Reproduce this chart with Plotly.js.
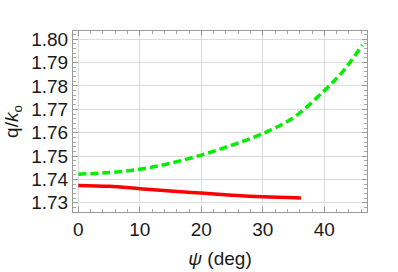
<!DOCTYPE html>
<html>
<head>
<meta charset="utf-8">
<script src="https://cdn.plot.ly/plotly-3.0.1.min.js"></script>
<style>html,body{margin:0;padding:0;background:#fff;}#chart{width:398px;height:272px;}</style>
</head>
<body>
<div id="chart"></div>
<script>
const greenPsi = [0, 5, 10, 15, 20, 25, 30, 35, 40, 43, 46.2];
const greenQ = [1.7422, 1.7429, 1.7443, 1.7469, 1.7504, 1.7547, 1.7596, 1.7665, 1.7780, 1.7862, 1.7976];
const redPsi = [0, 5, 10, 15, 20, 25, 30, 36.2];
const redQ = [1.7374, 1.7370, 1.7360, 1.7350, 1.7341, 1.7332, 1.7325, 1.7320];
const xTicks = [0, 10, 20, 30, 40];
const yTicks = [1.73, 1.74, 1.75, 1.76, 1.77, 1.78, 1.79, 1.80];

const font = {family: 'Liberation Sans, Arial, sans-serif', size: 19, color: '#1a1a1a'};
const titleFont = {family: 'Liberation Sans, Arial, sans-serif', size: 19, color: '#1a1a1a'};
const axisCommon = {
  showgrid: true, gridcolor: '#dcdcdc', gridwidth: 1,
  zeroline: false, showline: true, linecolor: '#9a9a9a', linewidth: 1,
  mirror: 'allticks', ticks: 'inside', ticklen: 5, tickcolor: '#9a9a9a',
  tickfont: font
};
Plotly.newPlot('chart', [
  {x: greenPsi, y: greenQ, mode: 'lines', line: {color: '#00ee00', width: 3.5, dash: '8px,4px', shape: 'spline'}, hoverinfo: 'skip'},
  {x: redPsi, y: redQ, mode: 'lines', line: {color: '#ff0000', width: 3.5, shape: 'spline'}, hoverinfo: 'skip'}
], {
  width: 398, height: 272,
  margin: {l: 73, r: 31, t: 31, b: 60},
  paper_bgcolor: '#fff', plot_bgcolor: '#fff',
  showlegend: false,
  xaxis: Object.assign({}, axisCommon, {
    range: [-0.86, 46.94], tickmode: 'array', tickvals: xTicks, ticktext: xTicks.map(String),
    minor: {dtick: 2, ticks: 'inside', ticklen: 3, tickcolor: '#aaa', showgrid: false},
    title: {text: '<i>ψ</i> (deg)', font: titleFont, standoff: 12}
  }),
  yaxis: Object.assign({}, axisCommon, {
    range: [1.72601, 1.80356], tickmode: 'array', tickvals: yTicks, ticktext: yTicks.map(v => v.toFixed(2)),
    minor: {dtick: 0.002, tick0: 1.72, ticks: 'inside', ticklen: 3, tickcolor: '#aaa', showgrid: false},
    title: {text: 'q/<i>k</i><sub>o</sub>', font: titleFont, standoff: 7}
  })
}, {staticPlot: true});
</script>
</body>
</html>
